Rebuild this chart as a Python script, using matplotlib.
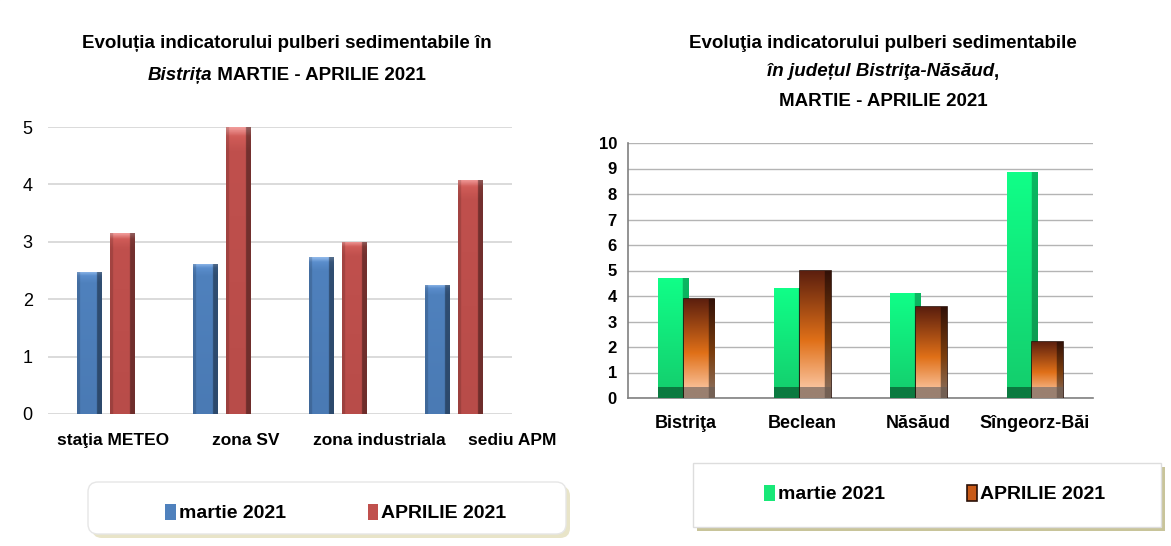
import matplotlib.pyplot as plt
import numpy as np
from matplotlib.colors import to_rgb, LinearSegmentedColormap
from matplotlib.patches import FancyBboxPatch

# left chart - Bistrita
left_cats = ['staţia METEO', 'zona SV', 'zona industriala', 'sediu APM']
left_martie = [2.48, 2.62, 2.73, 2.25]
left_aprilie = [3.15, 5.0, 3.0, 4.08]

# right chart - judetul Bistrita-Nasaud
right_cats = ['Bistriţa', 'Beclean', 'Năsăud', 'Sîngeorz-Băi']
right_martie = [4.72, 4.32, 4.12, 8.88]
right_aprilie = [3.90, 5.0, 3.55, 2.20]

series = ['martie 2021', 'APRILIE 2021']

FAM = ['Liberation Sans', 'DejaVu Sans']
plt.rcParams['font.family'] = FAM

W, H = 1171, 546
fig = plt.figure(figsize=(W / 100, H / 100), dpi=100)

# background panels
bg = fig.add_axes([0, 0, 1, 1], zorder=-10)
bg.axis('off')
bg.add_patch(plt.Rectangle((0, 0), W, H, color='white'))


def vgrad(stops, n=256):
    cm = LinearSegmentedColormap.from_list('g', stops)
    return cm(np.linspace(0, 1, n))[:, :3]


bg.imshow(vgrad([(0, '#f5f8fd'), (0.55, '#f7f8ee'), (1, '#fbf6b8')])[:, None, :],
          extent=[0, 591, H, 0], aspect='auto', origin='upper')
bg.imshow(vgrad([(0, '#fdfdf9'), (0.5, '#fdfce9'), (1, '#fcf7ae')])[:, None, :],
          extent=[597, W, H, 0], aspect='auto', origin='upper')
bg.set_xlim(0, W)
bg.set_ylim(H, 0)


def px(x0, y0, x1, y1):
    return [x0 / W, 1 - y1 / H, (x1 - x0) / W, (y1 - y0) / H]


def bevel_img(base, dark_right=0.6, light_left=1.0, vert=None):
    nx = 40
    hx = np.ones(nx)
    hx[: nx // 8] = light_left
    hx[-nx // 5:] = dark_right
    if vert is None:
        vert = np.ones((64, 3)) * np.array(to_rgb(base))
    img = vert[:, None, :] * hx[None, :, None]
    return np.clip(img, 0, 1)


def shade(ax, bars, img, foot=None, foot_h=0.0):
    for b in bars:
        x, y, w, h = b.get_x(), b.get_y(), b.get_width(), b.get_height()
        im = ax.imshow(img, extent=[x, x + w, y, y + h], aspect='auto',
                       origin='upper', zorder=b.get_zorder() + 0.1,
                       interpolation='bilinear')
        im.set_clip_path(b)
        if foot is not None:
            fh = min(foot_h, h)
            im2 = ax.imshow(foot, extent=[x, x + w, y, y + fh], aspect='auto',
                            origin='upper', zorder=b.get_zorder() + 0.2,
                            interpolation='bilinear')
            im2.set_clip_path(b)


# ---------------- left chart ----------------
axl = fig.add_axes(px(48, 127, 512, 414))
axl.set_facecolor('none')
xl = np.arange(len(left_cats))
bw = 0.215
b1 = axl.bar(xl - 0.142, left_martie, bw, color='#4f81bd', zorder=3,
             label=series[0])
b2 = axl.bar(xl + 0.142, left_aprilie, bw, color='#c0504d', zorder=3,
             label=series[1])
blue_v = vgrad([(0, '#8fb8ea'), (0.03, '#5a8dcc'), (0.08, '#4f81bd'), (1, '#4a7ab4')], 400)
red_v = vgrad([(0, '#f09a98'), (0.03, '#d05c58'), (0.08, '#c0504d'), (1, '#b84c49')], 400)
shade(axl, b1, bevel_img('#4f81bd', 0.6, 0.85, vert=blue_v))
shade(axl, b2, bevel_img('#c0504d', 0.6, 0.85, vert=red_v))
axl.set_xlim(-0.5, len(left_cats) - 0.5)
axl.set_ylim(0, 5)
axl.set_yticks(range(6))
axl.grid(axis='y', color='#d4d4d4', lw=1.2, zorder=0)
for s in axl.spines.values():
    s.set_visible(False)
axl.tick_params(length=0)
axl.tick_params(axis='y', pad=11, labelsize=13)
# category labels sit on a wider spacing than the bar groups
axl.set_xticks(np.arange(len(left_cats)) * 1.147 + 0.06)
axl.set_xticklabels(left_cats, fontsize=12.5, fontweight='bold')
axl.tick_params(axis='x', pad=14)

# ---------------- right chart ----------------
axr = fig.add_axes(px(628, 143, 1093, 398))
axr.set_facecolor('none')
xr = np.arange(len(right_cats))
bw2 = 0.265
g = axr.bar(xr - 0.11, right_martie, bw2, color='#18e878', zorder=3,
            label=series[0])
br = axr.bar(xr + 0.11, right_aprilie, bw2, color='#c85a18', zorder=4,
             edgecolor='#2a1008', lw=1.2, label=series[1])
gv = vgrad([(0, '#10ff88'), (1, '#14cc6c')])
bv = vgrad([(0, '#5a1e0e'), (0.55, '#e07018'), (1, '#ffd4b8')])
g_foot = bevel_img('#0b7a40', 0.85, 1.0)
b_foot = bevel_img('#9a8070', 0.75, 1.0)
shade(axr, g, bevel_img('#18e878', 0.72, 1.0, vert=gv), g_foot, 0.4)
shade(axr, br, bevel_img('#c85a18', 0.55, 1.0, vert=bv), b_foot, 0.4)
axr.set_xlim(-0.5, len(right_cats) - 0.5)
axr.set_ylim(0, 10)
axr.set_yticks(range(11))
axr.grid(axis='y', color='#b4b4b4', lw=1.0, zorder=0)
for k in ['top', 'right']:
    axr.spines[k].set_visible(False)
for k in ['left', 'bottom']:
    axr.spines[k].set_color('#808080')
    axr.spines[k].set_linewidth(1.2)
axr.tick_params(length=0)
axr.tick_params(axis='y', pad=8, labelsize=12)
for t in axr.get_yticklabels():
    t.set_fontweight('bold')
axr.set_xticks(xr)
axr.set_xticklabels(right_cats, fontsize=13, fontweight='bold')
axr.tick_params(axis='x', pad=12)

# ---------------- titles ----------------
tkw = dict(fontsize=13.5, fontweight='bold', va='center', transform=bg.transData)
bg.text(287, 44, 'Evoluția indicatorului pulberi sedimentabile în', ha='center', **tkw)
bg.text(883, 44, 'Evoluţia indicatorului pulberi sedimentabile', ha='center', **tkw)
bg.text(883, 101, 'MARTIE - APRILIE 2021', ha='center', **tkw)

renderer = fig.canvas.get_renderer()


def mixed_line(parts, cx, y):
    texts = []
    for s, style in parts:
        t = bg.text(0, y, s, ha='left', style=style, **tkw)
        texts.append(t)
    widths = [t.get_window_extent(renderer).width for t in texts]
    x = cx - sum(widths) / 2
    for t, w in zip(texts, widths):
        t.set_x(x)
        x += w


mixed_line([('Bistrița', 'italic'), (' MARTIE - APRILIE 2021', 'normal')], 287, 75)
mixed_line([('în județul Bistriţa-Năsăud', 'italic'), (',', 'normal')], 883, 72)

# ---------------- legends ----------------
bg.add_patch(FancyBboxPatch((92, 486), 478, 52, boxstyle='round,pad=0,rounding_size=10',
                            fc='#e8e4c8', ec='none', zorder=1))
bg.add_patch(FancyBboxPatch((88, 482), 478, 52, boxstyle='round,pad=0,rounding_size=10',
                            fc='white', ec='#e6e6e6', zorder=2))
bg.add_patch(plt.Rectangle((697, 467), 468, 64, fc='#c8c49a', ec='none', zorder=1))
bg.add_patch(plt.Rectangle((693, 463), 468, 64, fc='white', ec='#dddddd', zorder=2))

lkw = dict(frameon=False, ncol=2, handlelength=0.55, handleheight=0.9,
           handletextpad=0.15, columnspacing=4.2,
           prop=dict(family=FAM, weight='bold', size=14))
fig.legend(handles=[b1, b2], labels=series, loc='center',
           bbox_to_anchor=(336 / W, 1 - 513 / H), **lkw)
fig.legend(handles=[g, br], labels=series, loc='center',
           bbox_to_anchor=(935 / W, 1 - 494 / H), **lkw)

fig.savefig('out.png', dpi=100)
